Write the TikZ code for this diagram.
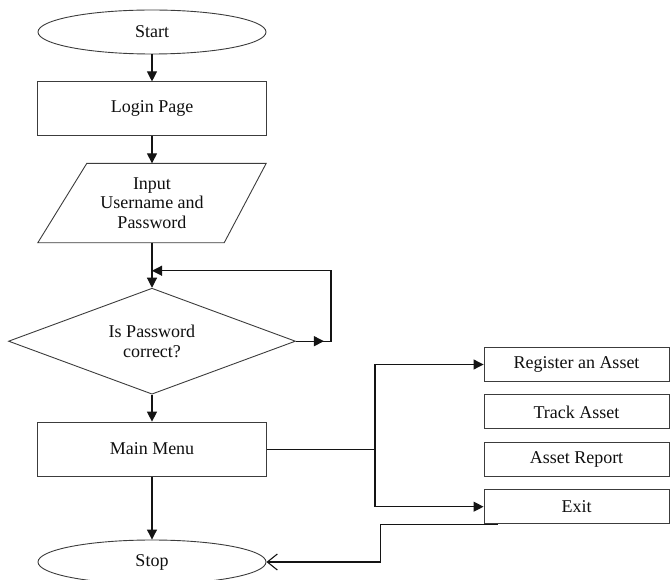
\documentclass[tikz,border=0pt]{standalone}
\usepackage{fontspec}
\setmainfont{Liberation Serif}
\usepackage{tikz}
\usetikzlibrary{shapes.geometric, arrows.meta, positioning}
\definecolor{fcline}{RGB}{60,60,60}
\definecolor{fcarrow}{RGB}{20,20,20}
\definecolor{fctext}{RGB}{15,15,15}
\tikzset{
  terminal/.style  = {ellipse, draw=fcline, line width=0.9pt, text=fctext,
                      minimum width=228pt, minimum height=44pt, inner sep=0pt},
  process/.style   = {rectangle, draw=fcline, line width=0.9pt, text=fctext, align=center,
                      minimum width=229pt, minimum height=54pt, inner sep=2pt},
  inout/.style     = {rectangle, text=fctext, align=center,
                      minimum width=228pt, minimum height=79pt, inner sep=2pt},
  slanted/.style   = {draw=fcline, line width=0.9pt, line join=miter},
  decision/.style  = {diamond, aspect=3, draw=fcline, line width=0.9pt, text=fctext,
                      align=center, minimum width=287pt, minimum height=106pt, inner sep=0pt},
  option/.style    = {rectangle, draw=fcline, line width=0.9pt, text=fctext,
                      minimum width=185pt, minimum height=34pt, inner sep=2pt},
  flow/.style      = {-{Triangle[length=10pt,width=10pt]}, line width=1.1pt, draw=fcarrow},
  backflow/.style  = {-{Straight Barb[length=10pt,width=16pt]}, line width=1.1pt, draw=fcarrow},
}

\begin{document}
\begin{tikzpicture}[x=1pt, y=-1pt, node distance=27pt,
                    font=\fontsize{18}{19.5}\selectfont]
\useasboundingbox (0,0) rectangle (670,580);

% ---------- Main column ----------
\node[terminal] (start) at (152,32) {Start};
\node[process, below=of start] (login) {Login Page};
\node[inout, below=of login] (input) {Input\\Username and\\Password};
\node[decision, below=45pt of input] (check) {Is Password\\correct?};
\node[process, below=of check] (menu) {Main Menu};
\node[terminal, below=63pt of menu] (stop) {Stop};

% parallelogram outline of the input box
\draw[slanted] ([xshift=49pt]input.north west) -- (input.north east)
  -- ([xshift=-42pt]input.south east) -- (input.south west) -- cycle;

% ---------- Menu options ----------
\node[option] (reg) at (576.5,364.5) {Register an Asset};
\node[option, below=12.5pt of reg] (track) {Track Asset};
\node[option, below=12.5pt of track] (report) {Asset Report};
\node[option, below=12.5pt of report] (exit) {Exit};

% ---------- Helper points ----------
\coordinate (loopturn) at ([xshift=35pt]check.east);
\coordinate (loopin) at ([yshift=-28pt]input.south);
\coordinate (split) at ([xshift=108pt]menu.east);
\coordinate (exitdrop) at ([xshift=-103pt]exit.south west);

% ---------- Edges ----------
\draw[flow] (start) -- (login);
\draw[flow] (login) -- (input);
\draw[flow] (input) -- (check);
\draw[flow, shorten >=7pt] (check.east) -- (loopturn);
\draw[flow] (check.east) -- (loopturn) |- (loopin);
\draw[flow] (check) -- (menu);
\draw[flow] (menu) -- (stop);
\draw[line width=1.1pt, draw=fcarrow] (menu.east) -- (split);
\draw[flow] (split) |- (reg.west);
\draw[flow] (split) |- (exit.west);
\draw[backflow] ([xshift=14pt]exit.south west) -- (exitdrop) |- (stop.east);

\end{tikzpicture}
\end{document}
